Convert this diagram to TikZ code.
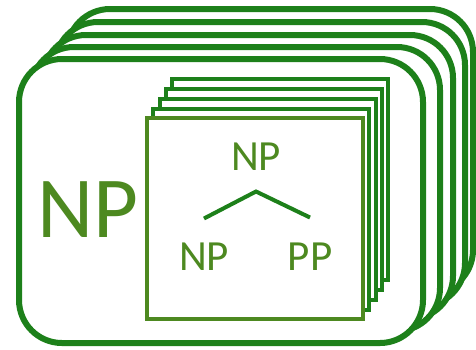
\documentclass[tikz,border=0pt]{standalone}
\usepackage{fontspec}
\setmainfont{Carlito}
\usepackage{xcolor}
\usepackage{tikz}
\definecolor{framegreen}{RGB}{29,128,26}
\definecolor{labelgreen}{RGB}{77,137,32}

\begin{document}
\begin{tikzpicture}[
    x=1pt, y=-1pt,
    frame/.style={draw=framegreen, fill=white, line width=6pt, rounded corners=43pt, minimum height=284pt, inner sep=0pt},
    card/.style={draw=framegreen, fill=white, line width=4pt, minimum width=216pt, minimum height=201pt, inner sep=0pt},
    cat/.style={text=labelgreen, inner sep=0pt},
    branch/.style={draw=framegreen, line width=4pt},
]
\useasboundingbox (0,0) rectangle (476,349);

% Stack of rounded frames (back to front)
\node[frame, minimum width=406pt] (frame4) at (270, 151) {};
\node[frame, minimum width=410pt] (frame3) at (260, 164) {};
\node[frame, minimum width=410pt] (frame2) at (248, 177) {};
\node[frame, minimum width=409pt] (frame1) at (235.5, 189) {};
\node[frame, minimum width=404pt] (frame0) at (221, 201) {};

% Big label of the outer frame
\node[cat, font=\fontsize{87}{87}\selectfont] (bigNP) at (88, 209.5) {NP};

% Stack of square cards (back to front)
\node[card] (card4) at (280, 179) {};
\node[card] (card3) at (274, 189) {};
\node[card] (card2) at (268, 199) {};
\node[card] (card1) at (261, 209) {};
\node[card, draw=labelgreen] (card0) at (255, 218.5) {};

% Small tree on the front card
\node[cat, font=\fontsize{43}{43}\selectfont] (root) at (256, 156.5) {NP};
\node[cat, font=\fontsize{43}{43}\selectfont] (leftNP) at (204, 256.5) {NP};
\node[cat, font=\fontsize{43}{43}\selectfont] (rightPP) at (310, 256.5) {PP};
\draw[branch] ([yshift=24pt]leftNP.north) -- ([yshift=-21pt]root.south) -- ([yshift=25pt]rightPP.north);

\end{tikzpicture}
\end{document}
